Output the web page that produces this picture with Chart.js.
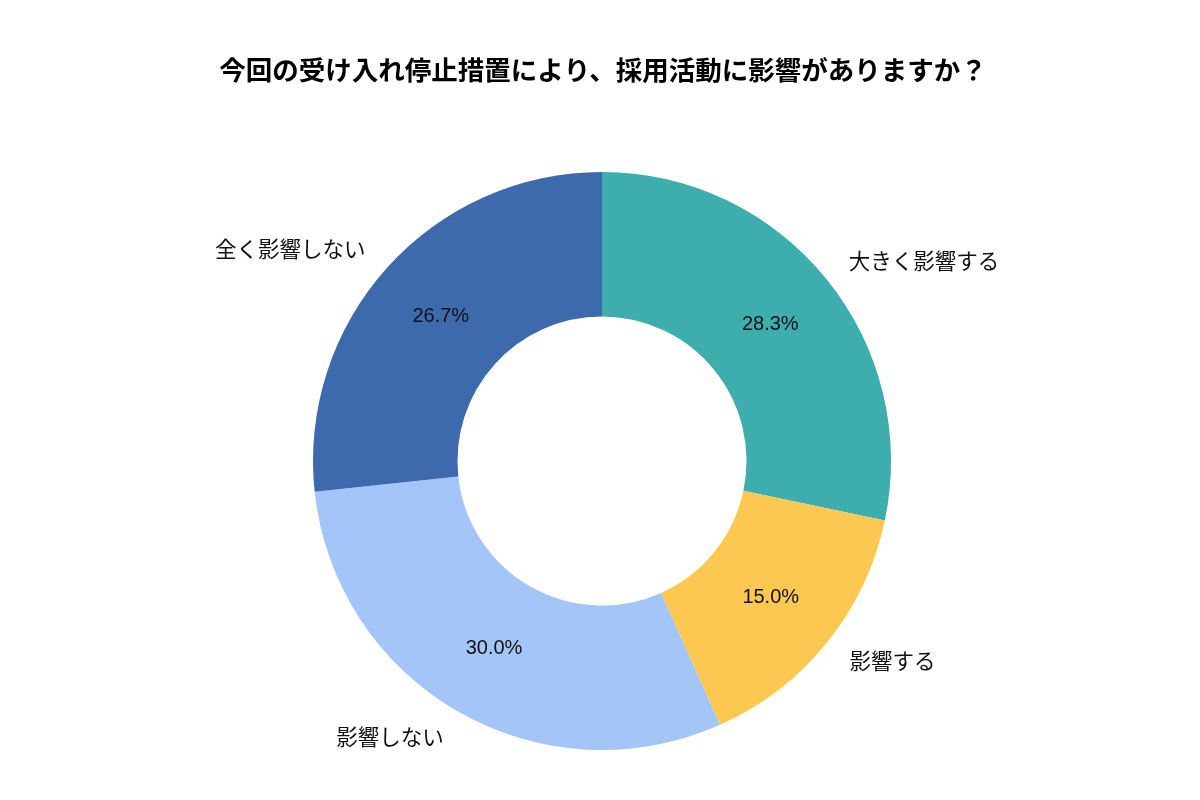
<!DOCTYPE html>
<html>
<head>
<meta charset="utf-8">
<script src="https://cdn.jsdelivr.net/npm/chart.js@4"></script>
<style>
  html, body { margin: 0; padding: 0; background: #fff; }
  #wrap { width: 1200px; height: 800px; }
</style>
</head>
<body>
<div id="wrap"><canvas id="mycanvas" width="1200" height="800"></canvas></div>
<script>
const chartTitle = '今回の受け入れ停止措置により、採用活動に影響がありますか？';
const labels = ['大きく影響する', '影響する', '影響しない', '全く影響しない'];
const values = [28.3, 15.0, 30.0, 26.7];
const colors = ['#3DADAE', '#FDC851', '#A4C5F7', '#3D69AD'];

const JP = '"Noto Sans CJK JP", "Noto Sans", sans-serif';

// pie labels: name outside (1.1 r), percent in middle of ring
const pieText = {
  id: 'pieText',
  afterDraw(chart) {
    const ctx = chart.ctx;
    const meta = chart.getDatasetMeta(0);
    ctx.save();
    // title
    ctx.fillStyle = '#000';
    ctx.font = 'bold 26.5px ' + JP;
    ctx.textAlign = 'center';
    ctx.textBaseline = 'middle';
    ctx.fillText(chartTitle, 603, 70);

    meta.data.forEach(function(arc, i) {
      const mid = (arc.startAngle + arc.endAngle) / 2;
      const r = arc.outerRadius, ir = arc.innerRadius;
      const cos = Math.cos(mid), sin = Math.sin(mid);

      const lr = r * 1.1;
      ctx.font = '21.5px ' + JP;
      ctx.fillStyle = '#111';
      ctx.textAlign = cos >= 0 ? 'left' : 'right';
      ctx.fillText(labels[i], arc.x + lr * cos, arc.y + lr * sin);

      const pr = (r + ir) / 2;
      ctx.font = '20px "Liberation Sans", Arial, sans-serif';
      ctx.textAlign = 'center';
      ctx.fillText(values[i].toFixed(1) + '%', arc.x + pr * cos, arc.y + pr * sin);
    });
    ctx.restore();
  }
};

new Chart(document.getElementById('mycanvas'), {
  type: 'doughnut',
  data: {
    labels: labels,
    datasets: [{
      data: values,
      backgroundColor: colors,
      borderWidth: 0
    }]
  },
  options: {
    responsive: false,
    animation: false,
    cutout: '50%',
    layout: { padding: { left: 313, right: 309, top: 172, bottom: 50 } },
    plugins: {
      legend: { display: false },
      tooltip: { enabled: false },
      title: { display: false }
    }
  },
  plugins: [pieText]
});
</script>
</body>
</html>
